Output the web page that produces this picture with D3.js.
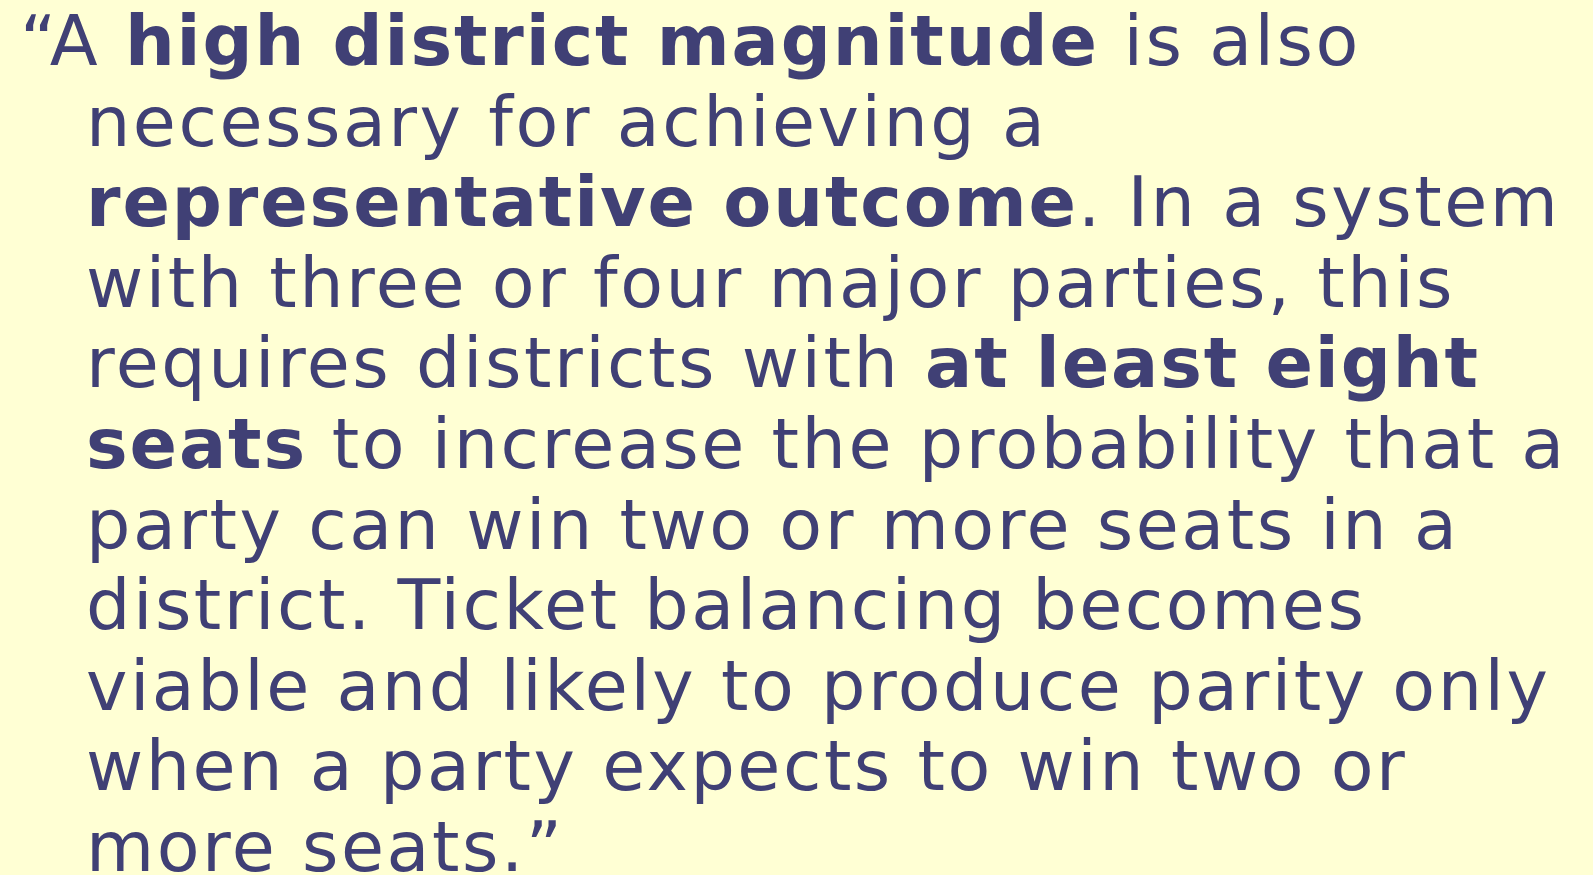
<!DOCTYPE html>
<html>
<head>
<meta charset="utf-8">
<script src="https://cdn.jsdelivr.net/npm/d3@7"></script>
<style>
  html, body { margin: 0; padding: 0; background: #ffffd4; overflow: hidden; }
</style>
</head>
<body>
<div id="slide"></div>
<script>
// quote text, one entry per printed line: [segment, bold]
const lineSegments = [
    [["\u201CA ", false], ["high district magnitude", true], [" is also", false]],
    [["necessary for achieving a", false]],
    [["representative outcome", true], [". In a system", false]],
    [["with three or four major parties, this", false]],
    [["requires districts with ", false], ["at least eight", true]],
    [["seats", true], [" to increase the probability that a", false]],
    [["party can win two or more seats in a", false]],
    [["district. Ticket balancing becomes", false]],
    [["viable and likely to produce parity only", false]],
    [["when a party expects to win two or", false]],
    [["more seats.\u201D", false]]
];

const W = 1593, H = 875;
const svg = d3.select("#slide").append("svg");
svg.attr("width", W).attr("height", H);

svg.append("rect")
    .attr("width", W)
    .attr("height", H)
    .attr("fill", "#ffffd4");

const y = d3.scaleLinear()
    .domain([0, lineSegments.length - 1])
    .range([65, 871]);

const texts = svg.selectAll("text.line")
    .data(lineSegments)
    .join("text")
    .attr("class", "line")
    .attr("x", (_, i) => i == 0 ? 20 : 86)
    .attr("y", (_, i) => y(i))
    .attr("fill", "#404075")
    .style("font-family", "'DejaVu Sans', Verdana, sans-serif")
    .style("font-size", "70px")
    .style("white-space", "pre");

texts.selectAll("tspan")
    .data(d => d)
    .join("tspan")
    .style("font-weight", d => d[1] ? "bold" : "normal")
    .style("letter-spacing", d => d[1] ? "1.9px" : "2.5px")
    .text(d => d[0]);
</script>
</body>
</html>
